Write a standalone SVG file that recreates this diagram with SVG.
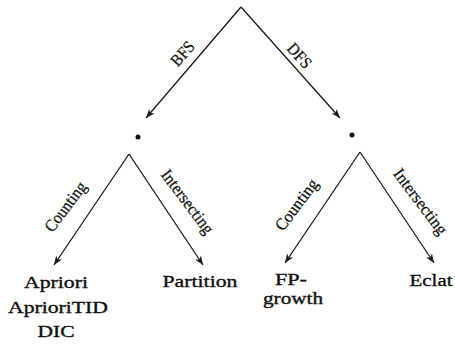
<svg xmlns="http://www.w3.org/2000/svg" width="455" height="344" viewBox="0 0 455 344">
<style>
.edge{stroke:#1a1a1a;stroke-width:1.3;fill:none;marker-end:url(#ah)}
.lbl{font-family:"Liberation Serif","Times New Roman",serif;font-size:16.5px;fill:#111;stroke:#111;stroke-width:0.35;text-anchor:middle}
.elbl{font-family:"Liberation Serif","Times New Roman",serif;font-size:17px;fill:#111;stroke:#111;stroke-width:0.25;text-anchor:middle}
.dot{fill:#111}
</style>
<defs>
<marker id="ah" markerUnits="userSpaceOnUse" markerWidth="12" markerHeight="10" viewBox="-10 -5 12 10" refX="0" refY="0" orient="auto">
<path d="M0,0 L-9,-3.5 L-6.5,0 L-9,3.5 Z" fill="#1a1a1a"/>
</marker>
</defs>
<g id="connectors">
<line class="edge" x1="241" y1="7" x2="146" y2="118"/>
<line class="edge" x1="241" y1="7" x2="340" y2="118"/>
<line class="edge" x1="129" y1="154" x2="54" y2="265"/>
<line class="edge" x1="129" y1="154" x2="203" y2="265"/>
<line class="edge" x1="360" y1="152" x2="285" y2="263"/>
<line class="edge" x1="360" y1="152" x2="434" y2="263"/>
<g transform="translate(183,54) rotate(-48)"><text class="elbl" x="0" y="5" textLength="27" lengthAdjust="spacingAndGlyphs">BFS</text></g>
<g transform="translate(299,56) rotate(48)"><text class="elbl" x="0" y="5" textLength="28" lengthAdjust="spacingAndGlyphs">DFS</text></g>
<g transform="translate(66,207) rotate(-53)"><text class="elbl" x="0" y="5" textLength="58" lengthAdjust="spacingAndGlyphs">Counting</text></g>
<g transform="translate(187,202) rotate(53)"><text class="elbl" x="0" y="5" textLength="76" lengthAdjust="spacingAndGlyphs">Intersecting</text></g>
<g transform="translate(297,205) rotate(-53)"><text class="elbl" x="0" y="5" textLength="60" lengthAdjust="spacingAndGlyphs">Counting</text></g>
<g transform="translate(420,202) rotate(53)"><text class="elbl" x="0" y="5" textLength="78" lengthAdjust="spacingAndGlyphs">Intersecting</text></g>
</g>
<g id="bfs-node"><circle class="dot" cx="138" cy="137" r="2.5"/></g>
<g id="dfs-node"><circle class="dot" cx="352" cy="135" r="2.5"/></g>
<g id="apriori-node">
<text class="lbl" x="56" y="288" textLength="64" lengthAdjust="spacingAndGlyphs">Apriori</text>
<text class="lbl" x="58" y="313" textLength="100" lengthAdjust="spacingAndGlyphs">AprioriTID</text>
<text class="lbl" x="56" y="337" textLength="37" lengthAdjust="spacingAndGlyphs">DIC</text>
</g>
<g id="partition-node"><text class="lbl" x="200" y="287" textLength="75" lengthAdjust="spacingAndGlyphs">Partition</text></g>
<g id="fpgrowth-node">
<text class="lbl" x="291" y="285" textLength="32" lengthAdjust="spacingAndGlyphs">FP-</text>
<text class="lbl" x="293" y="304" textLength="60" lengthAdjust="spacingAndGlyphs">growth</text>
</g>
<g id="eclat-node"><text class="lbl" x="431" y="286" textLength="43" lengthAdjust="spacingAndGlyphs">Eclat</text></g>
</svg>
